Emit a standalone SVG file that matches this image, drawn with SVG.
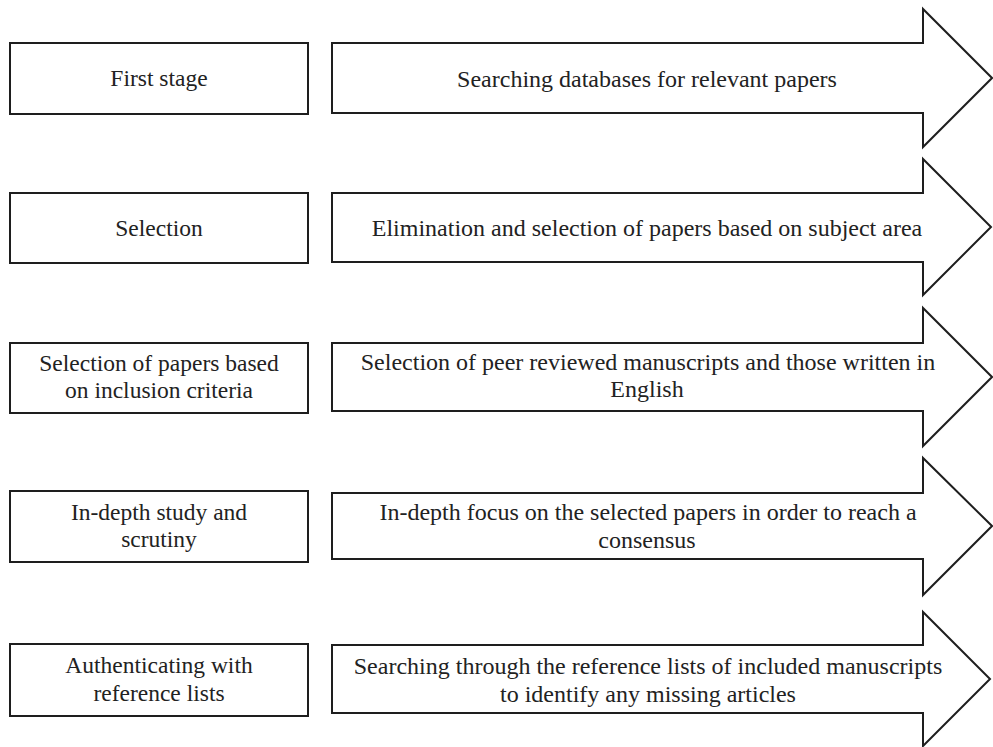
<svg xmlns="http://www.w3.org/2000/svg" width="993" height="747" viewBox="0 0 993 747">
<style>
.box{fill:#fff;stroke:#1e1e1e;stroke-width:2}
.arrow{fill:#fff;stroke:#1e1e1e;stroke-width:2;stroke-linejoin:miter}
.lt{font-size:23.5px}
.at{font-size:24px}
</style>
<rect width="993" height="747" fill="#fff"/>
<g font-family="Times New Roman, Liberation Serif, DejaVu Serif, Tinos, serif" fill="#222" text-anchor="middle">
<g id="stage1">
<rect class="box" x="10" y="43" width="298" height="71"/>
<text class="lt" x="159" y="86">First stage</text>
</g>
<g id="stage2">
<rect class="box" x="10" y="193" width="298" height="70"/>
<text class="lt" x="159" y="236">Selection</text>
</g>
<g id="stage3">
<rect class="box" x="10" y="343" width="298" height="70"/>
<text class="lt" x="159" y="371">Selection of papers based</text>
<text class="lt" x="159" y="398">on inclusion criteria</text>
</g>
<g id="stage4">
<rect class="box" x="10" y="491" width="298" height="71"/>
<text class="lt" x="159" y="520">In-depth study and</text>
<text class="lt" x="159" y="547">scrutiny</text>
</g>
<g id="stage5">
<rect class="box" x="10" y="644" width="298" height="72"/>
<text class="lt" x="159" y="673">Authenticating with</text>
<text class="lt" x="159" y="701">reference lists</text>
</g>
<g id="connectors">
<g id="arrow1">
<polygon class="arrow" points="332,43 923,43 923,9 992,78 923,147 923,113 332,113"/>
<text class="at" x="647" y="87">Searching databases for relevant papers</text>
</g>
<g id="arrow2">
<polygon class="arrow" points="332,193 923,193 923,159 991,227 923,295 923,262 332,262"/>
<text class="at" x="647" y="236">Elimination and selection of papers based on subject area</text>
</g>
<g id="arrow3">
<polygon class="arrow" points="332,343 923,343 923,308 992,377 923,446 923,411 332,411"/>
<text class="at" x="648" y="370">Selection of peer reviewed manuscripts and those written in</text>
<text class="at" x="647" y="397">English</text>
</g>
<g id="arrow4">
<polygon class="arrow" points="332,493 923,493 923,458 992,526 923,595 923,559 332,559"/>
<text class="at" x="648" y="520">In-depth focus on the selected papers in order to reach a</text>
<text class="at" x="647" y="548">consensus</text>
</g>
<g id="arrow5">
<polygon class="arrow" points="332,645 923,645 923,612 990,679 923,746 923,713 332,713"/>
<text class="at" x="648" y="674">Searching through the reference lists of included manuscripts</text>
<text class="at" x="648" y="702">to identify any missing articles</text>
</g>
</g>
</g>
</svg>
